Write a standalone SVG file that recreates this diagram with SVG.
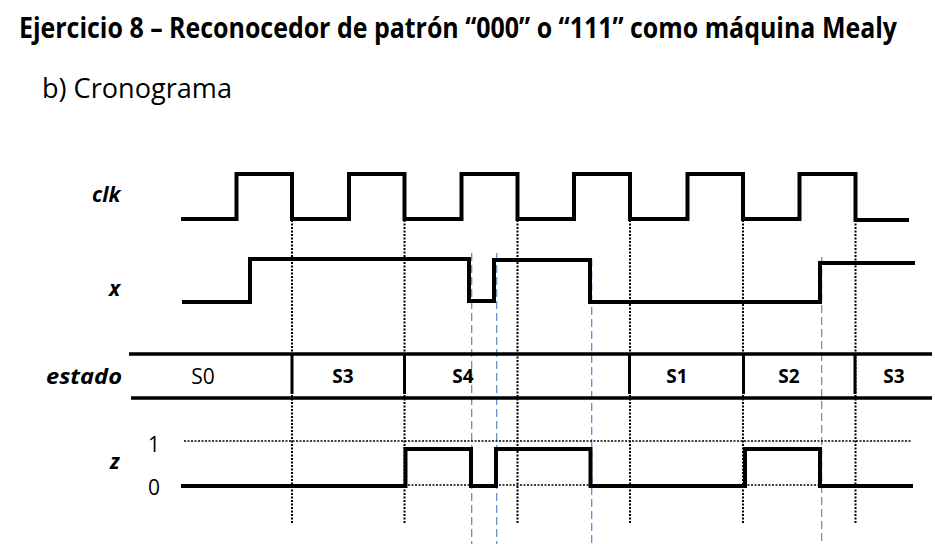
<svg xmlns="http://www.w3.org/2000/svg" width="935" height="544" viewBox="0 0 935 544">
<style>
.sig{fill:none;stroke:#000;stroke-width:4;stroke-linejoin:miter;stroke-linecap:butt}
.bus{fill:none;stroke:#000;stroke-width:3.5}
.sep{stroke:#000;stroke-width:3}
.dot{stroke:#000;stroke-width:2;stroke-dasharray:2 1.5;fill:none}
.hdot{stroke:#000;stroke-width:1.5;stroke-dasharray:2 1.5;fill:none}
.blue{stroke:#5a87c6;stroke-width:1.2;stroke-dasharray:8 4;fill:none}
.lbl{font-family:"Open Sans","Liberation Sans",sans-serif;font-weight:bold;font-style:italic;font-size:21px;fill:#000}
.st{font-family:"Open Sans","Liberation Sans",sans-serif;font-weight:bold;font-size:19px;fill:#000;text-anchor:middle}
.num{font-family:"Open Sans","Liberation Sans",sans-serif;font-size:21px;fill:#000;text-anchor:middle}
</style>
<rect width="935" height="544" fill="#fff"/>
<text x="19" y="33.1" transform="scale(1,1.15)" font-family="'Open Sans','Liberation Sans',sans-serif" font-weight="bold" font-size="24.5" textLength="878" lengthAdjust="spacingAndGlyphs">Ejercicio 8 – Reconocedor de patrón “000” o “111” como máquina Mealy</text>
<text x="42" y="98" font-family="'Open Sans','Liberation Sans',sans-serif" font-size="28" textLength="190" lengthAdjust="spacingAndGlyphs">b) Cronograma</text>

<g id="guides">
<path class="dot" d="M292,220V523M404.5,220V523M517.5,220V523M630,220V523M743,220V523M855.5,220V523"/>
<path class="blue" d="M471.7,253V544M496.7,253V544M591.7,259V544M821.7,257V544"/>
<path class="hdot" d="M184,441H912M184,485H912"/>
</g>

<g id="clk">
<text class="lbl" x="92" y="202">clk</text>
<path class="sig" d="M181,219H236.5V174H292V219H349V174H404.5V219H461.5V174H517.5V219H574V174H630V219H687.5V174H743V219H799.5V174H855.5V220H909"/>
</g>

<g id="x">
<text class="lbl" x="109" y="296">x</text>
<path class="sig" d="M182,302H250V259H469V301H494V260H590V302H820V263H915"/>
</g>

<g id="estado">
<text class="lbl" x="46" y="384" textLength="76" lengthAdjust="spacingAndGlyphs">estado</text>
<path class="bus" d="M129,354H932M131,398H932"/>
<path class="sep" d="M292,354V394M404.5,354V394M629.5,354V394M743.5,354V394M855,354V394"/>
<text x="203" y="384" font-family="'Open Sans','Liberation Sans',sans-serif" font-size="21" text-anchor="middle">S0</text>
<text class="st" x="343" y="383">S3</text>
<text class="st" x="463" y="383">S4</text>
<text class="st" x="677" y="383">S1</text>
<text class="st" x="789" y="383">S2</text>
<text class="st" x="894" y="383">S3</text>
</g>

<g id="z">
<text class="lbl" x="110" y="469">z</text>
<text class="num" x="154" y="452">1</text>
<text class="num" x="154" y="495">0</text>
<path class="sig" d="M181,486H405.5V449H471V486H496V449H590.5V486H745V449H820V486H913"/>
</g>
</svg>
